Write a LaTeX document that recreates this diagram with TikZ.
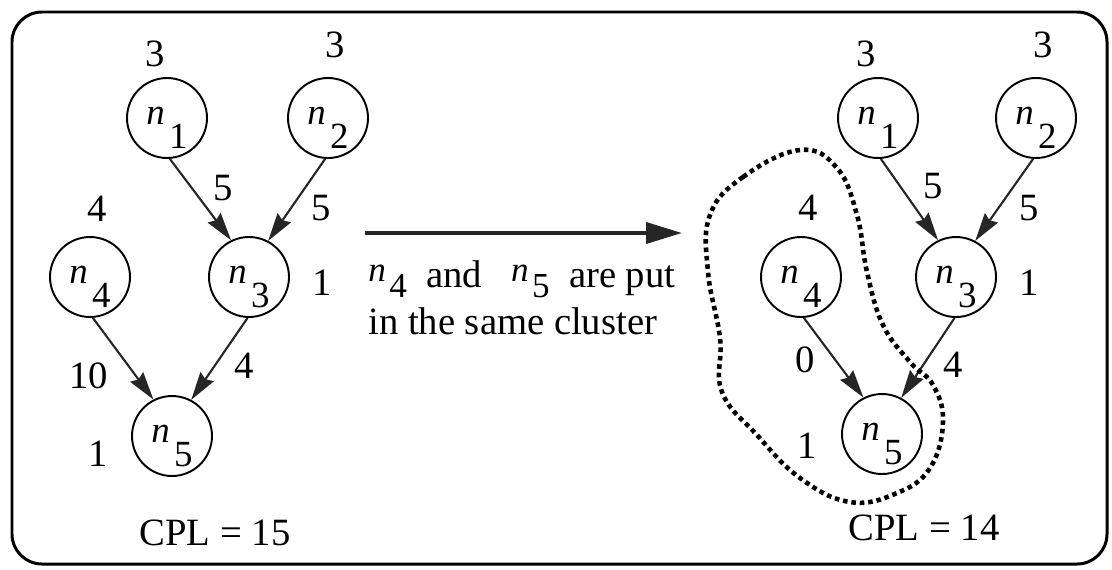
\documentclass[tikz,border=0pt]{standalone}
\usepackage{fontspec}
\setmainfont{Liberation Serif}
\usetikzlibrary{arrows.meta, positioning, calc}
\newcommand{\tn}[1]{\rule{0pt}{1em}{\itshape n}\hspace{0.12em}\raisebox{-0.66em}{#1}}
\newcommand{\inl}[1]{{\fontsize{20}{20}\selectfont\raisebox{0.15em}{\itshape n}\hspace{0.1em}\raisebox{-0.28em}{#1}}}

\begin{document}
\begin{tikzpicture}[
    x=0.02cm, y=-0.02cm,
    font=\fontsize{22}{27}\selectfont,
    task/.style={draw, circle, line width=1.1pt, minimum size=1.6cm, inner sep=0pt, font=\fontsize{21}{22}\selectfont},
    wt/.style={inner sep=1pt},
    arrow/.style={-{Stealth[length=0.56cm, width=0.32cm, inset=0.06cm]}, line width=1.2pt, draw=black!85},
    bigarrow/.style={-{Triangle[length=0.72cm, width=0.42cm]}, line width=2.2pt, draw=black!85},
    cluster/.style={line width=2.6pt, dash pattern=on 2.6pt off 2.2pt}
]
\useasboundingbox (0,0) rectangle (1112,569);
\draw[line width=1.7pt, rounded corners=0.6cm] (12,12) rectangle (1107,564);

% before clustering
\node[task, label={[wt, label distance=0.16cm, xshift=-0.24cm]above:3}] (l1) at (167,118) {\tn{1}};
\node[task, label={[wt, label distance=0.34cm, xshift=0.14cm]above:3}] (l2) at (328,118) {\tn{2}};
\node[task, label={[wt, label distance=0.24cm, xshift=0.14cm]above:4}] (l4) at (90,277) {\tn{4}};
\node[task, label={[wt, label distance=0.4cm, yshift=-0.12cm]right:1}] (l3) at (249,277) {\tn{3}};
\node[task, label={[wt, label distance=0.42cm, yshift=-0.36cm]left:1}] (l5) at (172,436) {\tn{5}};

\draw[arrow] (l1.-86) -- node[wt, pos=0.36, right=0.38cm] {5} (l3.116);
\draw[arrow] (l2.-94) -- node[wt, pos=0.6, right=0.36cm] {5} (l3.62);
\draw[arrow] (l4.-86) -- node[wt, pos=0.71, left=0.5cm] {10} (l5.117);
\draw[arrow] (l3.-92) -- node[wt, pos=0.58, right=0.34cm] {4} (l5.62);

\node (cpl1) at (215,533) {CPL = 15};

% the move
\coordinate (from) at (365,233);
\coordinate (to) at (682,233);
\draw[bigarrow] (from) -- (to);
\node[anchor=north west, align=left, inner sep=0pt] (note) at (368,260)
    {\inl{4}\hspace{0.5em}and\hspace{0.75em}\inl{5}\hspace{0.5em}are put\\in the same cluster};

% after clustering
\node[task, label={[wt, label distance=0.16cm, xshift=-0.24cm]above:3}] (r1) at (878,118) {\tn{1}};
\node[task, label={[wt, label distance=0.34cm, xshift=0.14cm]above:3}] (r2) at (1036,118) {\tn{2}};
\node[task, label={[wt, label distance=0.26cm, xshift=0.14cm]above:4}] (r4) at (801,277) {\tn{4}};
\node[task, label={[wt, label distance=0.4cm, yshift=-0.12cm]right:1}] (r3) at (956,277) {\tn{3}};
\node[task, label={[wt, label distance=0.45cm, yshift=-0.24cm]left:1}] (r5) at (882,434) {\tn{5}};

\draw[arrow] (r1.-86) -- node[wt, pos=0.34, right=0.4cm] {5} (r3.116);
\draw[arrow] (r2.-94) -- node[wt, pos=0.6, right=0.36cm] {5} (r3.62);
\draw[arrow] (r4.-86) -- node[wt, pos=0.53, left=0.36cm] {0} (r5.117);
\draw[arrow] (r3.-92) -- node[wt, pos=0.58, right=0.34cm] {4} (r5.62);

\draw[cluster] plot[smooth cycle, tension=0.7] coordinates {(800,150) (743,177) (710,215) (708,272) (720,338) (722,392) (757,435) (800,478) (850,502) (897,493) (930,468) (943,422) (933,385) (910,362) (883,325) (867,272) (857,215) (837,168)};

\node (cpl2) at (924,528) {CPL = 14};
\end{tikzpicture}
\end{document}
